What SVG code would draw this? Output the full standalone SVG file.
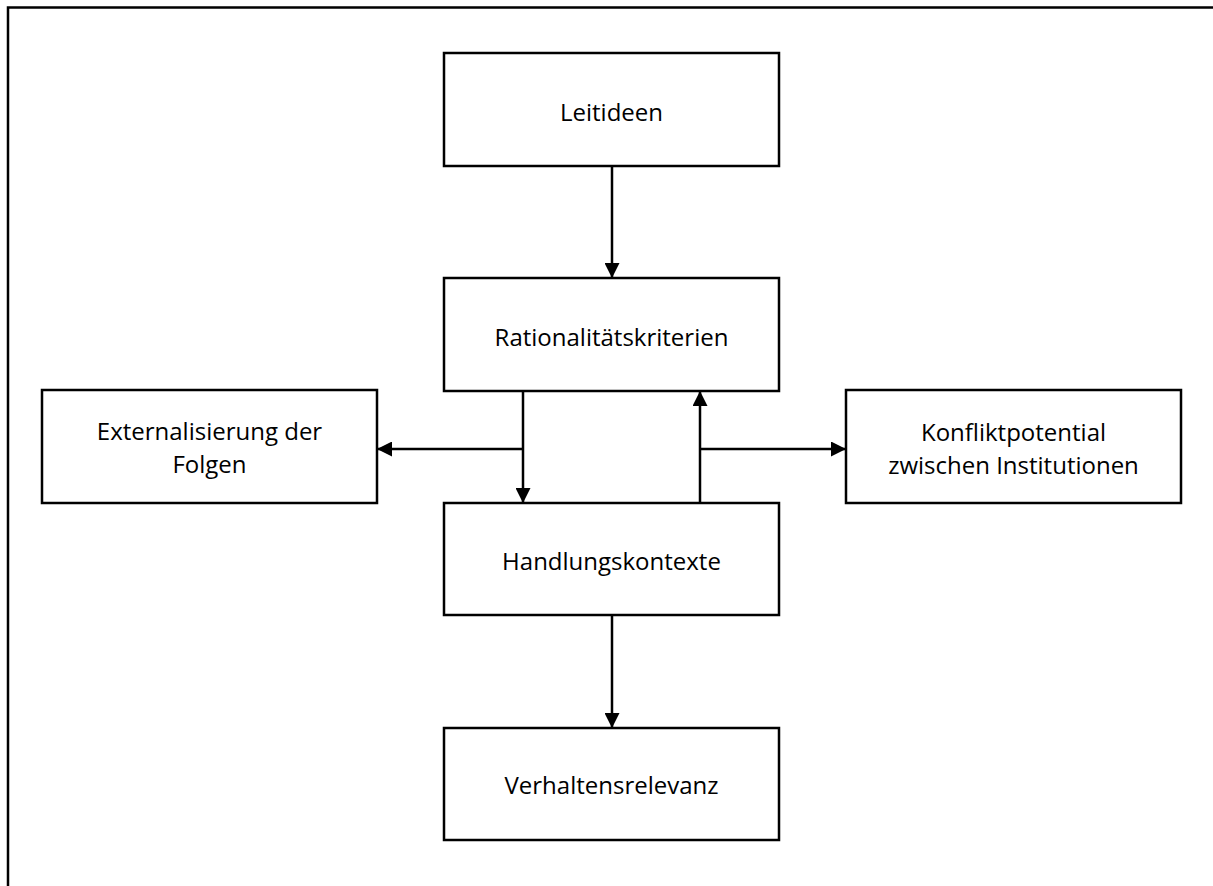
<svg xmlns="http://www.w3.org/2000/svg" width="1213" height="886" viewBox="0 0 1213 886">
<style>
.box{fill:#fff;stroke:#000;stroke-width:2.5}
.lbl{font-family:"Open Sans","Liberation Sans",sans-serif;font-size:24px;fill:#000;text-anchor:middle}
.con{stroke:#000;stroke-width:2.5;fill:none}
</style>
<defs>
<marker id="ah" markerWidth="15" markerHeight="15" viewBox="0 0 15 15" refX="15" refY="7.5" orient="auto" markerUnits="userSpaceOnUse">
<path d="M0,0 L15,7.5 L0,15 Z" fill="#000"/>
</marker>
</defs>
<rect width="1213" height="886" fill="#fff"/>
<path d="M8,886 V7.5 H1213" fill="none" stroke="#000" stroke-width="2.5"/>
<g id="connectors">
<line class="con" x1="612" y1="166" x2="612" y2="278" marker-end="url(#ah)"/>
<line class="con" x1="523" y1="391" x2="523" y2="503" marker-end="url(#ah)"/>
<line class="con" x1="700" y1="503" x2="700" y2="391" marker-end="url(#ah)"/>
<line class="con" x1="523" y1="449" x2="377" y2="449" marker-end="url(#ah)"/>
<line class="con" x1="700" y1="449" x2="846" y2="449" marker-end="url(#ah)"/>
<line class="con" x1="612" y1="615" x2="612" y2="728" marker-end="url(#ah)"/>
</g>
<g id="leitideen">
<rect class="box" x="444" y="53" width="335" height="113"/>
<text class="lbl" x="611.5" y="121">Leitideen</text>
</g>
<g id="rationalitaetskriterien">
<rect class="box" x="444" y="278" width="335" height="113"/>
<text class="lbl" x="611.5" y="346">Rationalitätskriterien</text>
</g>
<g id="externalisierung">
<rect class="box" x="42" y="390" width="335" height="113"/>
<text class="lbl" x="209.5" y="440">Externalisierung der</text>
<text class="lbl" x="209.5" y="473">Folgen</text>
</g>
<g id="konfliktpotential">
<rect class="box" x="846" y="390" width="335" height="113"/>
<text class="lbl" x="1013.5" y="441">Konfliktpotential</text>
<text class="lbl" x="1013.5" y="474">zwischen Institutionen</text>
</g>
<g id="handlungskontexte">
<rect class="box" x="444" y="503" width="335" height="112"/>
<text class="lbl" x="611.5" y="570">Handlungskontexte</text>
</g>
<g id="verhaltensrelevanz">
<rect class="box" x="444" y="728" width="335" height="112"/>
<text class="lbl" x="611.5" y="794">Verhaltensrelevanz</text>
</g>
</svg>
